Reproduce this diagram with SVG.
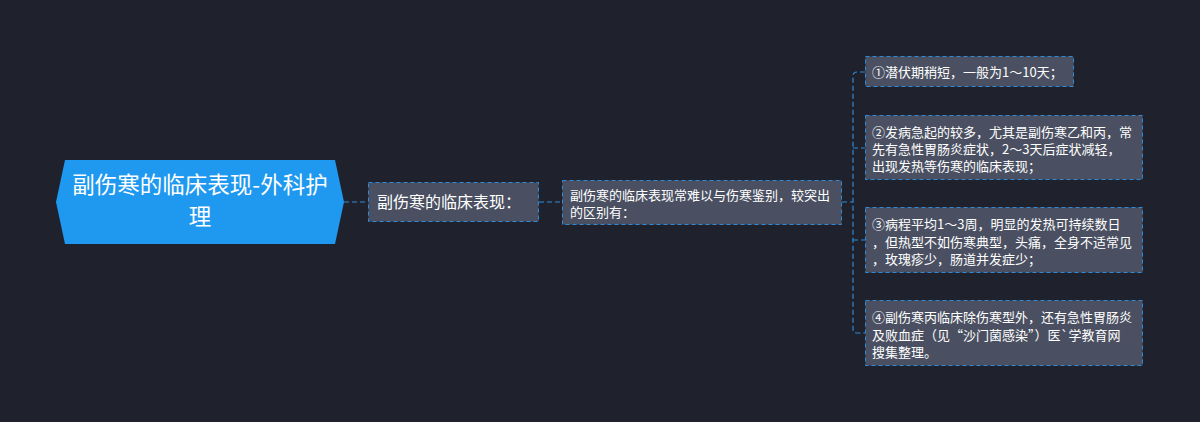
<svg xmlns="http://www.w3.org/2000/svg" width="1200" height="422" viewBox="0 0 1200 422">
<style>
.t{font-family:"Noto Sans CJK SC","Noto Sans",sans-serif;fill:#ffffff}
.box{fill:#4a5061;stroke:#2e8ad6;stroke-width:1;stroke-dasharray:4 3}
.c{fill:none;stroke:#2e8ad6;stroke-width:1.2;stroke-dasharray:5 3}
</style>
<rect width="1200" height="422" fill="#1f222d"/>
<g id="connectors">
<path class="c" d="M344,202 H368"/>
<path class="c" d="M539,202 H562"/>
<path class="c" d="M842,202 H853"/>
<path class="c" d="M865,72 H857 Q853,72 853,76 V329 Q853,333 857,333 H865"/>
<path class="c" d="M853,148 H865"/>
<path class="c" d="M853,240 H865"/>
</g>
<g id="root">
<polygon points="65,160 335,160 344,202 335,244 65,244 56,202" fill="#1f98f0"/>
<text class="t" font-size="22.5" text-anchor="middle" x="200" y="193">副伤寒的临床表现-外科护</text>
<text class="t" font-size="22.5" text-anchor="middle" x="200" y="225">理</text>
</g>
<g id="n1">
<rect class="box" x="368.5" y="182.5" width="170" height="39"/>
<text class="t" font-size="16" x="377" y="208">副伤寒的临床表现：</text>
</g>
<g id="n2">
<rect class="box" x="562.5" y="180.5" width="279" height="44"/>
<text class="t" font-size="13" x="570" y="200">副伤寒的临床表现常难以与伤寒鉴别，较突出</text>
<text class="t" font-size="13" x="570" y="217">的区别有：</text>
</g>
<g id="leaf1">
<rect class="box" x="865.5" y="56.5" width="208" height="30"/>
<text class="t" font-size="13" x="872" y="77">①潜伏期稍短，一般为1～10天；</text>
</g>
<g id="leaf2">
<rect class="box" x="865.5" y="115.5" width="277" height="64"/>
<text class="t" font-size="13" x="872" y="137">②发病急起的较多，尤其是副伤寒乙和丙，常</text>
<text class="t" font-size="13" x="872" y="154">先有急性胃肠炎症状，2～3天后症状减轻，</text>
<text class="t" font-size="13" x="872" y="171">出现发热等伤寒的临床表现；</text>
</g>
<g id="leaf3">
<rect class="box" x="865.5" y="207.5" width="277" height="65"/>
<text class="t" font-size="13" x="872" y="229">③病程平均1～3周，明显的发热可持续数日</text>
<text class="t" font-size="13" x="872" y="247">，但热型不如伤寒典型，头痛，全身不适常见</text>
<text class="t" font-size="13" x="872" y="264">，玫瑰疹少，肠道并发症少；</text>
</g>
<g id="leaf4">
<rect class="box" x="865.5" y="300.5" width="277" height="65"/>
<text class="t" font-size="13" x="872" y="322">④副伤寒丙临床除伤寒型外，还有急性胃肠炎</text>
<text class="t" font-size="13" x="872" y="340">及败血症（见“沙门菌感染”）医`学教育网</text>
<text class="t" font-size="13" x="872" y="357">搜集整理。</text>
</g>
</svg>
